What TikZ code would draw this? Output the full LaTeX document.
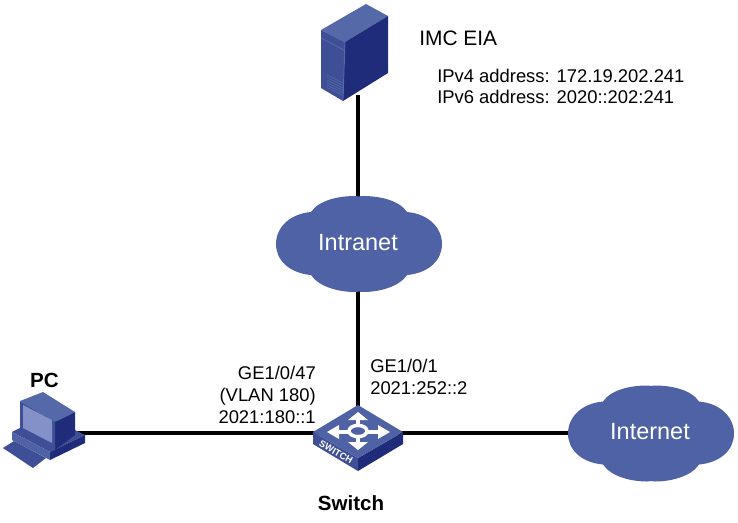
\documentclass[tikz,border=0pt]{standalone}
\usepackage{fontspec}
\setmainfont{Liberation Sans}
\definecolor{cloudblue}{HTML}{4F62A5}
\definecolor{navy}{HTML}{1F2C7A}
\definecolor{midblue}{HTML}{3F4F97}
\definecolor{lightblue}{HTML}{5568A8}
\definecolor{screenblue}{HTML}{8391C8}
\tikzset{
  x=0.75pt,y=-0.75pt,
  link/.style={line width=3pt,black},
  lab/.style={font=\fontsize{13.8pt}{16pt}\selectfont,anchor=base west,inner sep=0pt,black},
  headlab/.style={font=\fontsize{15.7pt}{18pt}\selectfont,anchor=base west,inner sep=0pt,black},
  boldlab/.style={font=\fontsize{15.4pt}{18pt}\selectfont\bfseries,anchor=base,inner sep=0pt,black},
  cloudlab/.style={font=\fontsize{17.6pt}{20pt}\selectfont,anchor=base,inner sep=0pt,white},
  hub/.style={inner sep=0pt,minimum size=0pt},
  cloudfill/.style={fill=cloudblue,draw=none},
  cloudicon/.pic={
    \fill[cloudfill] (-48,-32) .. controls (-40,-44) and (-20,-48) .. (-4,-48)
      .. controls (-2,-48) and (0,-47.5) .. (0,-47.5)
      .. controls (0,-47.5) and (2,-48) .. (4,-48)
      .. controls (20,-48) and (40,-44) .. (48,-32)
      .. controls (70,-30) and (83,-16) .. (83,0)
      .. controls (83,16) and (70,29) .. (48,31)
      .. controls (40,43) and (20,48) .. (4,48)
      .. controls (2,48) and (0,47.5) .. (0,47.5)
      .. controls (0,47.5) and (-2,48) .. (-4,48)
      .. controls (-20,48) and (-40,43) .. (-48,31)
      .. controls (-70,29) and (-83,16) .. (-83,0)
      .. controls (-83,-16) and (-70,-30) .. (-48,-32) -- cycle;
  },
}
\begin{document}
\begin{tikzpicture}
\useasboundingbox (0,0) rectangle (738,522);
% anchors
\node[hub] (server) at (358,95) {};
\node[hub] (intranet) at (358,244) {};
\node[hub] (switch) at (358,433) {};
\node[hub] (pc) at (60,433) {};
\node[hub] (internet) at (651,433) {};
% connectors
\draw[link] (server) -- (intranet);
\draw[link] (intranet) -- (switch);
\draw[link] (pc) -- (switch);
\draw[link] (switch) -- (internet);
% clouds
\pic at (359,244) {cloudicon};
\pic at (651,433.5) {cloudicon};
\node[cloudlab] at (358,250) {Intranet};
\node[cloudlab] at (650,439) {Internet};
% server icon
\fill[lightblue] (321,30) -- (366,4) -- (388,16) -- (345,42) -- cycle;
\fill[navy] (345,42) -- (388,16) -- (388,73) -- (343,101) -- cycle;
\fill[midblue] (321,30) -- (345,42) -- (343,101) -- (321,88) -- cycle;
\draw[lightblue,line width=0.6pt] (321,38) -- (344,50);
\draw[lightblue,line width=0.6pt] (345,42) -- (343,101);
\foreach \d in {0,2.5,...,12.5}{\draw[lightblue,line width=0.4pt] (327,75+\d) -- (343,83+\d);}
% switch icon
\fill[midblue] (313,444) -- (313,432) -- (358,458) -- (358,471) -- cycle;
\fill[navy] (358,458) -- (403,432) -- (403,444) -- (358,471) -- cycle;
\fill[cloudblue] (313,432) -- (358,405) -- (403,432) -- (358,458) -- cycle;
\draw[white,line width=3pt] (334,432) -- (349,432) (367,432) -- (382,432) (358,418) -- (358,425) (358,438) -- (358,444);
\fill[white] (327,432) -- (339,425) -- (339,439) -- cycle;
\fill[white] (390,432) -- (378,425) -- (378,439) -- cycle;
\fill[white] (358,412) -- (348,420) -- (368,420) -- cycle;
\fill[white] (358,450) -- (348,442) -- (368,442) -- cycle;
\draw[white,line width=2.6pt] (358,431) ellipse [x radius=9,y radius=5.6];
\node[font=\bfseries\fontsize{7pt}{8pt}\selectfont,white,rotate=-30,inner sep=0pt] at (336,452) {SWITCH};
% pc icon
\fill[midblue] (3,448) -- (14,441) -- (46,458) -- (33,468) -- cycle;
\fill[midblue] (12,432) -- (45,415) -- (85,435) -- (50,452) -- cycle;
\fill[navy] (50,452) -- (85,435) -- (85,443) -- (50,460) -- cycle;
\fill[cloudblue] (12,432) -- (50,452) -- (50,460) -- (12,440) -- cycle;
\fill[lightblue] (20,401) -- (43,392) -- (75,412) -- (55,422) -- cycle;
\fill[navy] (55,422) -- (75,412) -- (75,435) -- (55,450) -- cycle;
\fill[midblue] (20,401) -- (55,422) -- (55,450) -- (20,435) -- cycle;
\fill[screenblue] (23,405) -- (52,420) -- (52,443) -- (23,428) -- cycle;
% text
\node[headlab] (eia) at (419,45) {IMC EIA};
\node[lab] (v4) at (437,82) {IPv4 address: 172.19.202.241};
\node[lab] (v6) at (437,103) {IPv6 address: 2020::202:241};
\node[boldlab] (pclab) at (44.5,387) {PC};
\node[boldlab] (swlab) at (351,510) {Switch};
\node[lab,anchor=base east] (p1) at (316,379) {GE1/0/47};
\node[lab,anchor=base east] (p2) at (316,401) {(VLAN 180)};
\node[lab,anchor=base east] (p3) at (316,423) {2021:180::1};
\node[lab] (p4) at (370,372) {GE1/0/1};
\node[lab] (p5) at (370,394) {2021:252::2};
\end{tikzpicture}
\end{document}
